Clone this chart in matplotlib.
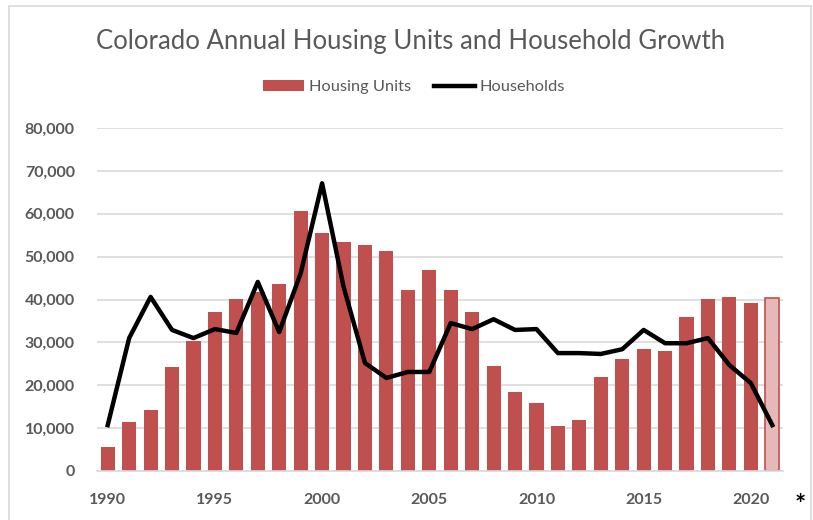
import matplotlib
matplotlib.use("Agg")
import matplotlib.pyplot as plt
from matplotlib.patches import Rectangle
from matplotlib.ticker import FuncFormatter

plt.rcParams['font.family'] = ['Lato', 'DejaVu Sans']

# Data
YEARS = list(range(1990, 2022))
HOUSING_UNITS = [5600, 11400, 14200, 24200, 30300, 37000, 40100, 41700, 43600, 60600,
                 55500, 53400, 52700, 51300, 42200, 46800, 42200, 37000, 24500, 18400,
                 15900, 10500, 11900, 21900, 26100, 28400, 28000, 35900, 40100, 40600,
                 39200, 40300]
HOUSEHOLDS = [10700, 31000, 40600, 32900, 31000, 33100, 32200, 44100, 32400, 46100,
              67100, 43000, 25200, 21700, 23100, 23100, 34500, 33100, 35400, 32900,
              33100, 27500, 27500, 27300, 28400, 32900, 29800, 29800, 31000, 24700,
              20500, 10700]
XTICKS = [1990, 1995, 2000, 2005, 2010, 2015, 2020]

RED = '#C0504D'
PINK = '#E6B8B7'
GRAY = '#595959'

fig = plt.figure(figsize=(8.13, 5.2), dpi=100)
ax = fig.add_axes([97 / 813, 49 / 520, 686 / 813, 343 / 520])

# last year is an estimate: light fill
colors = [RED] * (len(YEARS) - 1) + [PINK]
bars = ax.bar(YEARS, HOUSING_UNITS, width=0.66, color=colors, edgecolor=colors,
              linewidth=0, label='Housing Units', zorder=2)
bars[-1].set_edgecolor(RED)
bars[-1].set_linewidth(1.2)
line, = ax.plot(YEARS, HOUSEHOLDS, color='black', linewidth=3.2, label='Households', zorder=3)

ax.set_xlim(YEARS[0] - 0.5, YEARS[-1] + 0.5)
ax.set_ylim(0, 80000)
ax.set_yticks(range(0, 80001, 10000))
ax.yaxis.set_major_formatter(FuncFormatter(lambda v, p: f'{int(v):,}'))
ax.set_xticks(XTICKS)
ax.grid(axis='y', color='#D9D9D9', linewidth=1.2, zorder=0)
ax.set_axisbelow(True)
for s in ['top', 'right', 'left']:
    ax.spines[s].set_visible(False)
ax.spines['bottom'].set_color('#D9D9D9')
ax.spines['bottom'].set_linewidth(1.2)
ax.tick_params(length=0, labelsize=11.5, labelcolor=GRAY)
ax.tick_params(axis='x', pad=16)
ax.tick_params(axis='y', pad=16)
for lbl in ax.get_xticklabels() + ax.get_yticklabels():
    lbl.set_fontweight('bold')

fig.text(800 / 813, 1 - 505 / 520, '*', fontsize=19, fontweight='bold',
         ha='center', va='center', color='black')

fig.text(411 / 813, 1 - 42 / 520, 'Colorado Annual Housing Units and Household Growth',
         fontsize=18.5, color=GRAY, ha='center', va='center')

leg = ax.legend([bars, line], ['Housing Units', 'Households'], loc='center',
                bbox_to_anchor=(414 / 813, 1 - 87 / 520),
                bbox_transform=fig.transFigure, ncol=2, frameon=False,
                fontsize=11.8, handlelength=2.5, handletextpad=0.3, columnspacing=1.4)
for t in leg.get_texts():
    t.set_color(GRAY)

# chart frame
fig.patches.append(Rectangle((9 / 813, -0.05), 802 / 813, 1.05 - 6 / 520,
                             transform=fig.transFigure, fill=False,
                             edgecolor='#D9D9D9', linewidth=1.2))

fig.savefig('out.png', dpi=100)
